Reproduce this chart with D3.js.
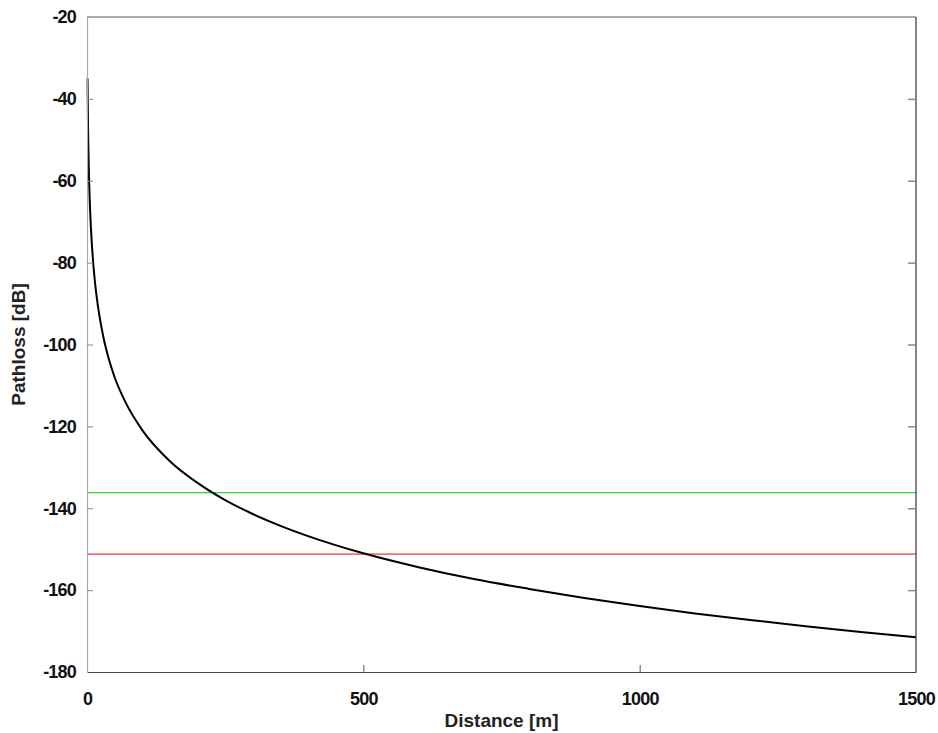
<!DOCTYPE html>
<meta charset="utf-8">
<style>
body { margin: 0; background: #fff; }
.tick text { font-family: "Liberation Sans", Arial, sans-serif; font-weight: bold; font-size: 18px; fill: #111; letter-spacing: -0.8px; }
.label { font-family: "Liberation Sans", Arial, sans-serif; font-weight: bold; font-size: 19px; fill: #222; }
</style>
<body>
<div id="chart"></div>
<script src="https://d3js.org/d3.v7.min.js"></script>
<script>
// distance [m] and pathloss [dB]
var distance = [1, 2, 3, 5, 7, 10, 15, 20, 30, 40, 50, 70, 100, 150, 200, 250, 300, 350, 400, 500, 600, 700, 800, 900, 1000, 1100, 1200, 1300, 1400, 1500];
var pathloss = [-35, -47.8, -55.4, -65, -71.2, -77.9, -85.5, -90.8, -98.4, -103.8, -108, -114.2, -120.9, -128.5, -133.8, -138, -141.4, -144.3, -146.8, -151, -154.4, -157.3, -159.7, -161.9, -163.9, -165.7, -167.3, -168.8, -170.2, -171.5];
// threshold levels
var greenLevel = -136.2;
var redLevel = -151.2;
var xTicks = [0, 500, 1000, 1500];
var yTicks = [-20, -40, -60, -80, -100, -120, -140, -160, -180];

var W = 938, H = 733;
var margin = {top: 17, right: 22, bottom: 61, left: 87};
var width = W - margin.left - margin.right;
var height = H - margin.top - margin.bottom;

var x = d3.scaleLinear().domain([0, 1500]).range([0, width]);
var y = d3.scaleLinear().domain([-180, -20]).range([height, 0]);

var plain = function(d) { return String(d); };

var svg = d3.select("#chart").append("svg")
    .attr("width", W)
    .attr("height", H)
  .append("g")
    .attr("transform", "translate(" + margin.left + "," + margin.top + ")");

var data = distance.map(function(d, i) { return {x: d, y: pathloss[i]}; });

// threshold lines
svg.append("line")
    .attr("x1", 0).attr("x2", width)
    .attr("y1", y(greenLevel)).attr("y2", y(greenLevel))
    .attr("stroke", "#2ed62e").attr("stroke-width", 1.2);
svg.append("line")
    .attr("x1", 0).attr("x2", width)
    .attr("y1", y(redLevel)).attr("y2", y(redLevel))
    .attr("stroke", "#f07070").attr("stroke-width", 1.6);

// pathloss curve
var line = d3.line()
    .x(function(d) { return x(d.x); })
    .y(function(d) { return y(d.y); })
    .curve(d3.curveMonotoneX);
svg.append("path")
    .datum(data)
    .attr("fill", "none")
    .attr("stroke", "#000")
    .attr("stroke-width", 2)
    .attr("d", line);

// frame
svg.append("line").attr("x1", 0).attr("x2", width).attr("y1", 0).attr("y2", 0)
    .attr("stroke", "#555").attr("stroke-width", 1);
svg.append("line").attr("x1", width).attr("x2", width).attr("y1", 0).attr("y2", height)
    .attr("stroke", "#333").attr("stroke-width", 1.2);

// X axis (ticks pointing inward)
var xAxis = svg.append("g")
    .attr("transform", "translate(0," + height + ")")
    .call(d3.axisBottom(x).tickValues(xTicks).tickFormat(plain).tickSize(-7).tickPadding(20).tickSizeOuter(0));
xAxis.select(".domain").attr("stroke", "#444");
xAxis.selectAll(".tick line").attr("stroke", "#555");
xAxis.selectAll(".tick").filter(function(d) { return d === 0 || d === 1500; }).select("line").remove();

// Y axis left
var yAxis = svg.append("g")
    .call(d3.axisLeft(y).tickValues(yTicks).tickFormat(plain).tickSize(-6).tickPadding(11).tickSizeOuter(0));
yAxis.select(".domain").attr("stroke", "#aaa").attr("stroke-width", 1.2);
yAxis.selectAll(".tick line").attr("stroke", "#888");
yAxis.selectAll(".tick").filter(function(d) { return d === -20 || d === -180; }).select("line").remove();

// Y axis right ticks
var yRight = svg.append("g")
    .attr("transform", "translate(" + width + ",0)")
    .call(d3.axisRight(y).tickValues(yTicks.slice(1, -1)).tickSize(-8).tickFormat(""));
yRight.select(".domain").remove();
yRight.selectAll(".tick line").attr("stroke", "#888").attr("stroke-width", 1.5);

// axis titles
svg.append("text")
    .attr("class", "label")
    .attr("x", width / 2)
    .attr("y", height + 55)
    .attr("text-anchor", "middle")
    .text("Distance [m]");
svg.append("text")
    .attr("class", "label")
    .attr("transform", "translate(" + (-62) + "," + (height / 2) + ") rotate(-90)")
    .attr("text-anchor", "middle")
    .text("Pathloss [dB]");
</script>
</body>
